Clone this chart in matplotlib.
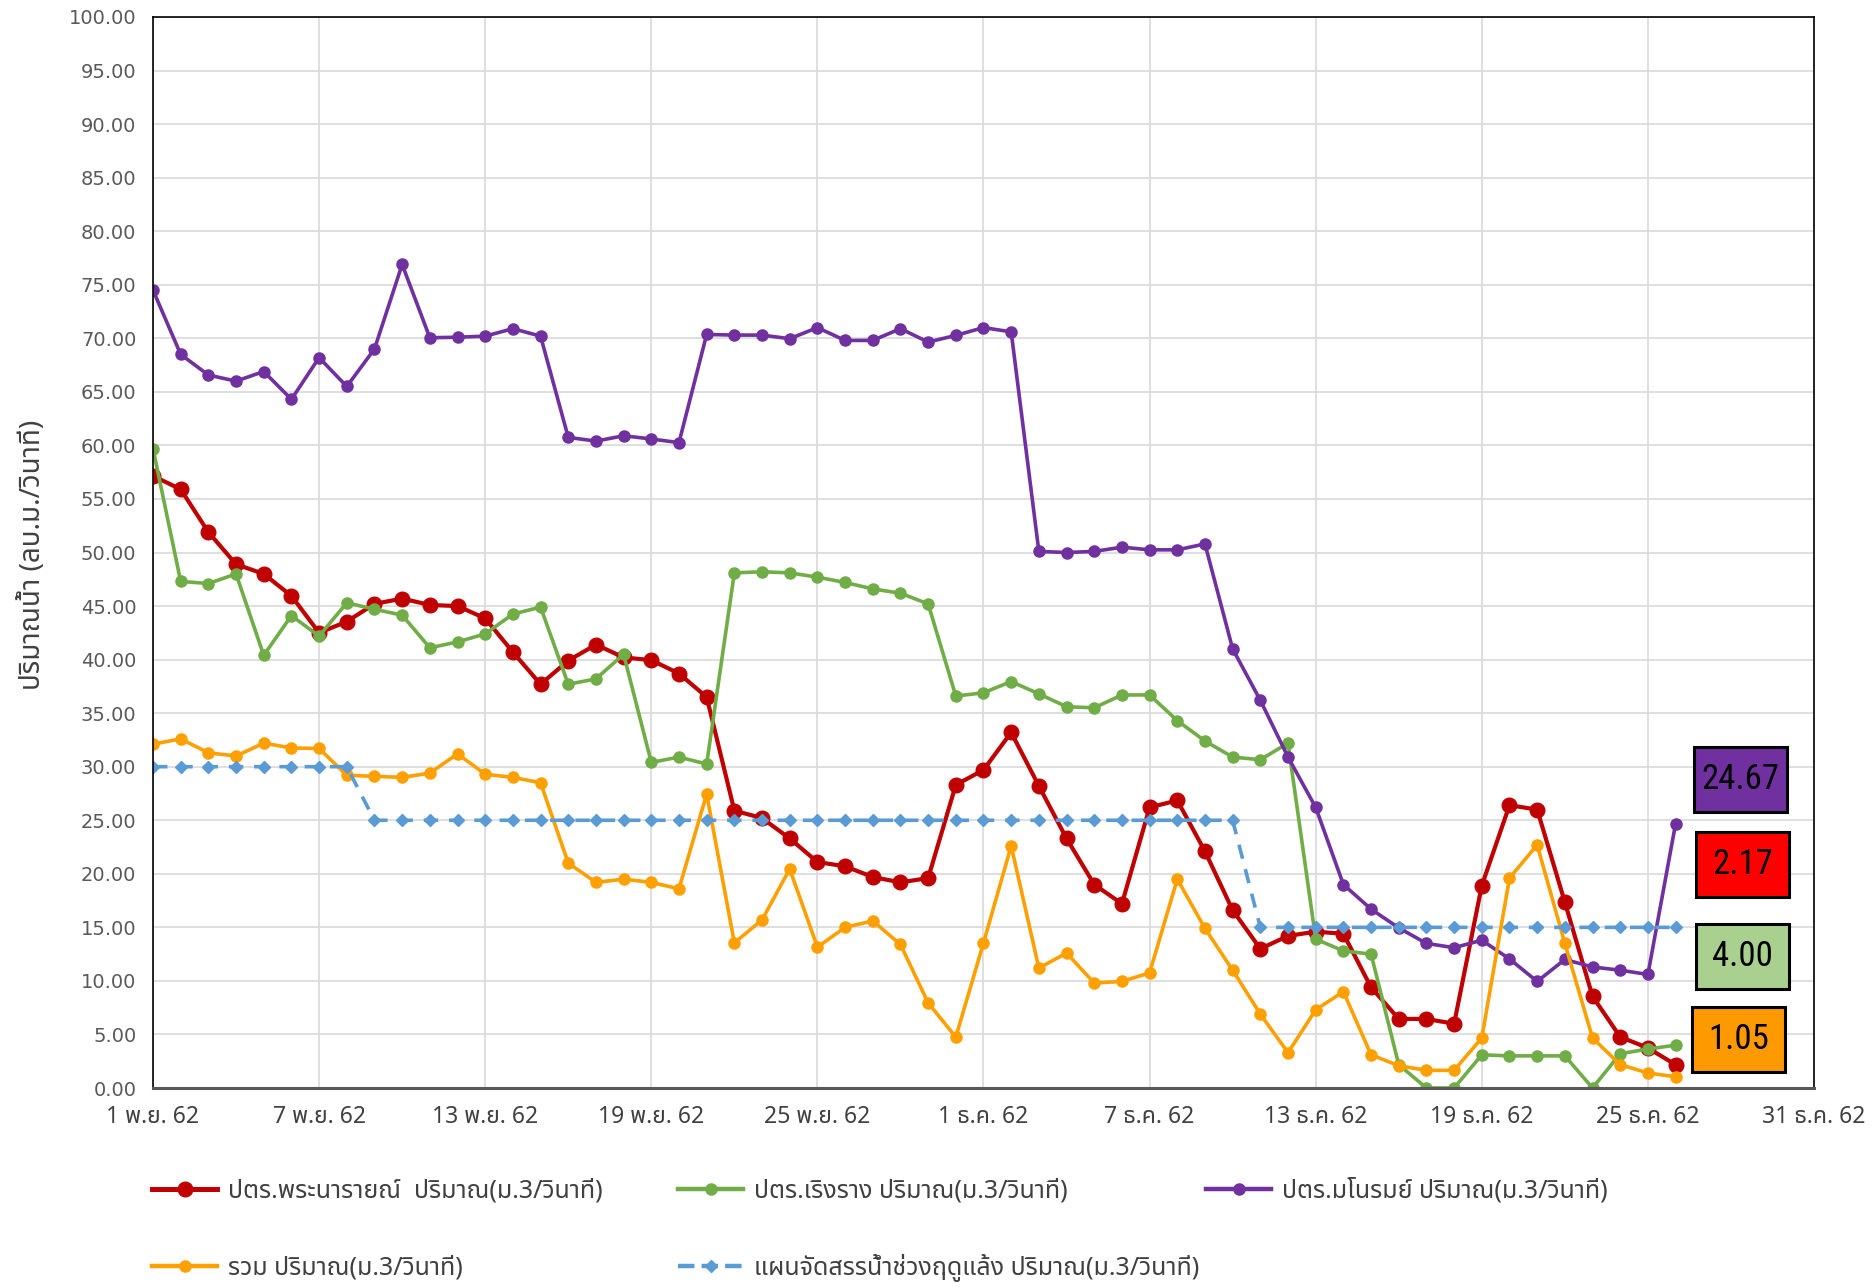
#!/usr/bin/env python3
# -*- coding: utf-8 -*-

"""
Daily discharge of the regulators (ปตร.) Nov-Dec 2562 against the dry-season
allocation plan.  Saves the figure to out.png.
"""

import matplotlib
matplotlib.use("Agg")
import matplotlib.pyplot as plt
import pandas as pd
from matplotlib import font_manager
from matplotlib.ft2font import FT2Font
from matplotlib.lines import Line2D
from matplotlib.patches import Rectangle

# ---------------------------------------------------------------------------
# Data (1 Nov - 26 Dec 2019)
# ---------------------------------------------------------------------------

START_DATE = "2019-11-01"
END_DATE = "2019-12-26"

narai = [57.15, 55.90, 51.90, 48.90, 48.00, 45.95, 42.50, 43.55, 45.20, 45.70,
         45.10, 45.00, 43.85, 40.70, 37.70, 39.90, 41.40, 40.20, 39.95, 38.70,
         36.50, 25.90, 25.20, 23.30, 21.10, 20.70, 19.70, 19.20, 19.60, 28.30,
         29.70, 33.20, 28.20, 23.30, 19.00, 17.20, 26.20, 26.85, 22.10, 16.60,
         13.00, 14.20, 14.60, 14.40, 9.40, 6.45, 6.45, 6.00, 18.90, 26.40,
         26.00, 17.35, 8.56, 4.77, 3.74, 2.17]

roengrang = [59.70, 47.30, 47.10, 48.00, 40.40, 44.10, 42.20, 45.30, 44.70, 44.15,
             41.10, 41.65, 42.40, 44.25, 44.90, 37.70, 38.20, 40.50, 30.40, 30.90,
             30.25, 48.10, 48.20, 48.10, 47.70, 47.20, 46.60, 46.20, 45.20, 36.60,
             36.90, 37.95, 36.80, 35.60, 35.50, 36.70, 36.70, 34.30, 32.40, 30.90,
             30.65, 32.20, 13.90, 12.80, 12.50, 2.18, 0.00, 0.00, 3.10, 3.00,
             3.00, 3.00, 0.00, 3.20, 3.64, 4.00]

manorom = [74.50, 68.50, 66.57, 66.00, 66.90, 64.30, 68.20, 65.50, 69.00, 76.90,
           70.05, 70.10, 70.20, 70.90, 70.20, 60.75, 60.40, 60.90, 60.60, 60.26,
           70.36, 70.30, 70.30, 69.96, 71.00, 69.80, 69.80, 70.90, 69.65, 70.27,
           71.00, 70.60, 50.10, 50.00, 50.10, 50.50, 50.25, 50.25, 50.80, 41.00,
           36.20, 30.90, 26.20, 19.00, 16.70, 14.95, 13.50, 13.10, 13.80, 12.05,
           9.95, 12.00, 11.30, 11.00, 10.60, 24.67]

total = [32.10, 32.60, 31.30, 31.00, 32.20, 31.75, 31.70, 29.20, 29.10, 29.00,
         29.40, 31.20, 29.30, 29.00, 28.50, 21.00, 19.20, 19.50, 19.20, 18.60,
         27.45, 13.55, 15.70, 20.45, 13.15, 15.00, 15.60, 13.40, 7.95, 4.75,
         13.55, 22.60, 11.20, 12.60, 9.80, 9.95, 10.75, 19.50, 14.90, 11.00,
         6.90, 3.30, 7.30, 9.00, 3.10, 2.08, 1.65, 1.65, 4.67, 19.60,
         22.70, 13.50, 4.67, 2.18, 1.40, 1.05]

plan = [30, 30, 30, 30, 30, 30, 30, 30, 25, 25,
        25, 25, 25, 25, 25, 25, 25, 25, 25, 25,
        25, 25, 25, 25, 25, 25, 25, 25, 25, 25,
        25, 25, 25, 25, 25, 25, 25, 25, 25, 25,
        15, 15, 15, 15, 15, 15, 15, 15, 15, 15,
        15, 15, 15, 15, 15, 15]

labels = [
    "ปตร.พระนารายณ์  ปริมาณ(ม.3/วินาที)",
    "ปตร.เริงราง ปริมาณ(ม.3/วินาที)",
    "ปตร.มโนรมย์ ปริมาณ(ม.3/วินาที)",
    "รวม ปริมาณ(ม.3/วินาที)",
    "แผนจัดสรรน้ำช่วงฤดูแล้ง ปริมาณ(ม.3/วินาที)",
]

THAI_MONTH = {11: "พ.ย.", 12: "ธ.ค."}
Y_LABEL = "ปริมาณน้ำ (ลบ.ม./วินาที)"

# ---------------------------------------------------------------------------
# Fonts
# ---------------------------------------------------------------------------

def find_font(char, preferred=()):
    """Return the name of an installed family that has a glyph for *char*."""
    names = {f.name for f in font_manager.fontManager.ttflist}
    for name in preferred:
        if name in names:
            return name
    for f in font_manager.fontManager.ttflist:
        try:
            if ord(char) in FT2Font(f.fname).get_charmap():
                return f.name
        except Exception:
            continue
    return None


def narrow_font():
    names = {f.name for f in font_manager.fontManager.ttflist}
    for name in ("Liberation Sans Narrow", "DejaVu Sans Condensed", "Roboto Condensed"):
        if name in names:
            return name
    return "DejaVu Sans"


# ---------------------------------------------------------------------------
# Plotting
# ---------------------------------------------------------------------------

W, H, DPI = 1872, 1287, 100


def px(x, y):
    """Pixel position (from top-left) -> figure fraction."""
    return x / W, 1 - y / H


def main():
    thai = find_font("ป", ("Noto Sans Thai", "Noto Sans Thai Looped", "Loma",
                            "Garuda", "Tlwg Typo", "Norasi"))
    fams = [thai, "DejaVu Sans"] if thai else ["DejaVu Sans"]
    plt.rcParams["font.family"] = fams
    narrow = narrow_font()

    dates = pd.date_range(START_DATE, END_DATE, freq="D")
    series = [
        (narai, dict(color="#C00000", lw=3.0, marker="o", ms=10.5)),
        (roengrang, dict(color="#70AD47", lw=2.6, marker="o", ms=8)),
        (manorom, dict(color="#7030A0", lw=2.6, marker="o", ms=8)),
        (total, dict(color="#FFA000", lw=2.6, marker="o", ms=8)),
        (plan, dict(color="#5B9BD5", lw=2.6, marker="D", ms=6.5,
                    ls=(0, (4, 3)))),
    ]

    fig = plt.figure(figsize=(W / DPI, H / DPI), dpi=DPI)
    left, right, top, bottom = 153, 1814, 17, 1088
    ax = fig.add_axes([left / W, 1 - bottom / H, (right - left) / W, (bottom - top) / H])

    handles = []
    for (vals, style), lab in zip(series, labels):
        (ln,) = ax.plot(dates, vals, label=lab, **style)
        handles.append(ln)

    # axes
    ax.set_ylim(0, 100)
    ax.set_yticks(range(0, 101, 5))
    ax.set_yticklabels([f"{v:.2f}" for v in range(0, 101, 5)],
                       family="DejaVu Sans", fontsize=14, color="#595959")
    ax.set_xlim(pd.Timestamp("2019-11-01"), pd.Timestamp("2019-12-31"))
    ticks = pd.date_range("2019-11-01", "2019-12-31", freq="6D")
    ax.set_xticks(ticks)
    ax.set_xticklabels([f"{d.day} {THAI_MONTH[d.month]} {(d.year + 543) % 100}"
                        for d in ticks], fontsize=16.5, color="#404040")
    ax.tick_params(length=0, pad=12)
    ax.grid(True, color="#D9D9D9", lw=1.2)
    ax.set_axisbelow(True)
    for side in ("top", "right", "left"):
        ax.spines[side].set_color("black")
        ax.spines[side].set_linewidth(1.2)
    ax.spines["bottom"].set_color("#595959")
    ax.spines["bottom"].set_linewidth(2.2)

    fig.text(33 / W, 1 - 555 / H, Y_LABEL, rotation=90, ha="center", va="center",
             fontsize=20, color="#404040")

    # value boxes for the last day
    boxes = [
        (manorom, "#7030A0", 1694, 747),
        (narai, "#FF0000", 1696, 832),
        (roengrang, "#A9D08E", 1696, 924),
        (total, "#FF9900", 1692, 1007),
    ]
    bw, bh = 93, 65
    for vals, col, bx, by in boxes:
        x0, y0 = px(bx, by + bh)
        fig.patches.append(Rectangle((x0, y0), bw / W, bh / H, transform=fig.transFigure,
                                     facecolor=col, edgecolor="black", lw=2.2, zorder=5))
        cx, cy = px(bx + bw / 2, by + bh / 2)
        fig.text(cx, cy, f"{vals[-1]:.2f}", ha="center", va="center",
                 family=narrow, fontsize=25, color="black", zorder=6)

    # legend entries, laid out like the spreadsheet legend
    spots = [(152, 1191), (678, 1191), (1206, 1191), (152, 1268), (678, 1268)]
    for h, (lx, ly) in zip(handles, spots):
        proxy = Line2D([], [], color=h.get_color(), lw=h.get_linewidth() + 0.6,
                       ls=h.get_linestyle(), marker=h.get_marker(),
                       ms=h.get_markersize())
        fig.legend([proxy], [h.get_label()], loc="center left",
                   bbox_to_anchor=px(lx, ly), frameon=False, borderpad=0,
                   borderaxespad=0, handlelength=2.6, handletextpad=0.45,
                   fontsize=18, labelcolor="#404040")

    fig.savefig("out.png", dpi=DPI)
    plt.close(fig)


if __name__ == "__main__":
    main()
